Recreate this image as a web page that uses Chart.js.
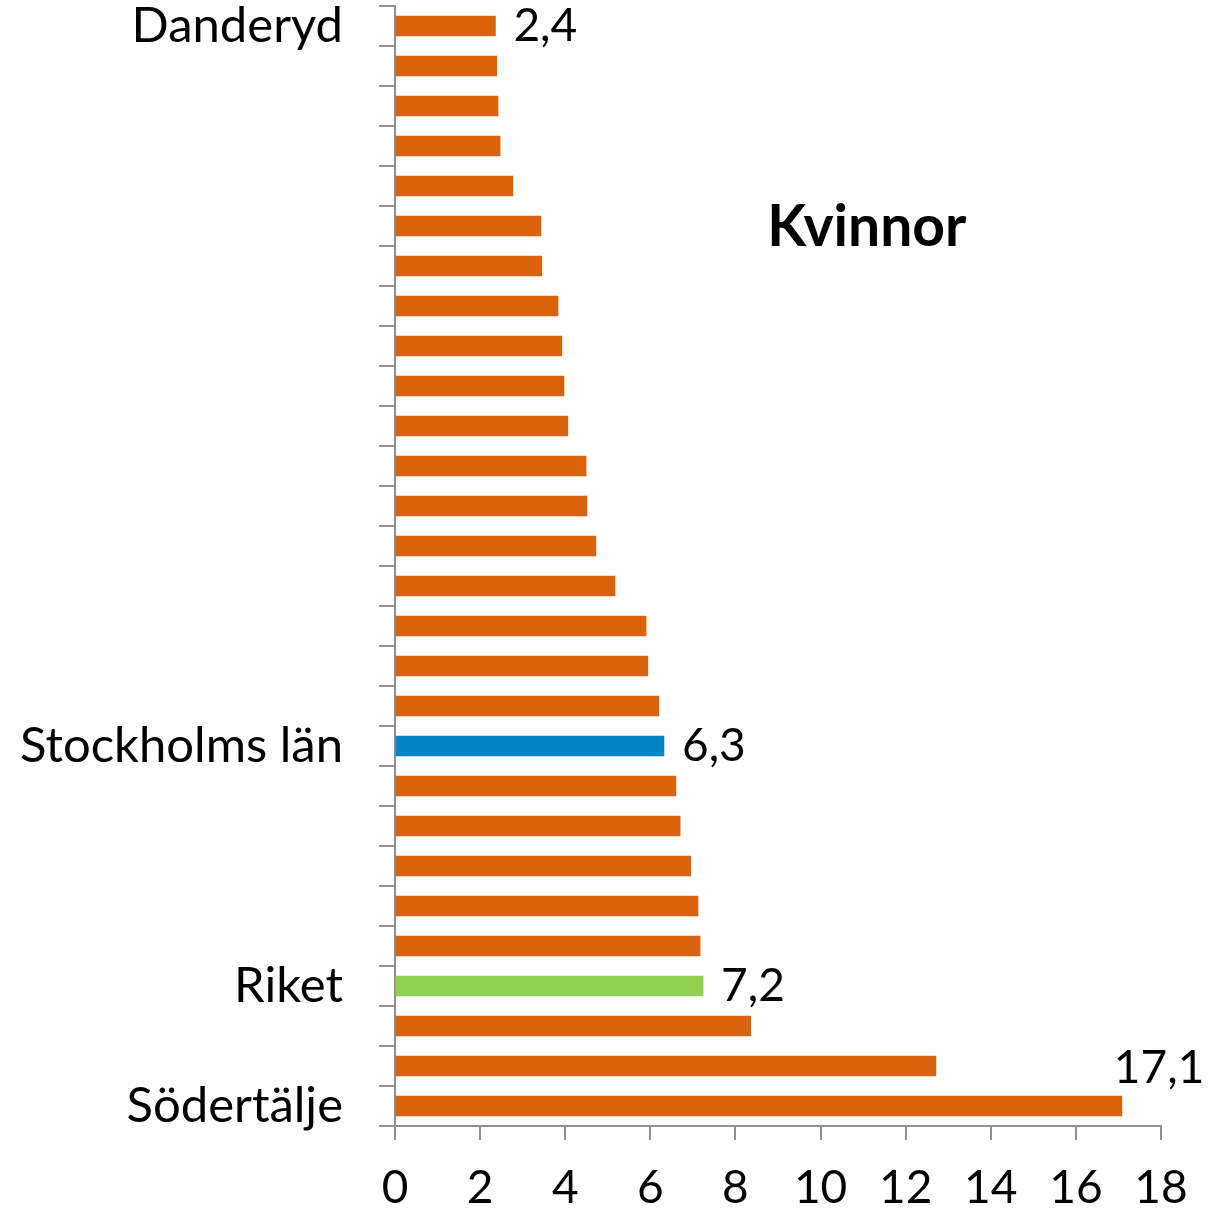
<!DOCTYPE html>
<html>
<head>
<meta charset="utf-8">
<script src="https://cdn.jsdelivr.net/npm/chart.js@4.4.1/dist/chart.umd.min.js"></script>
<style>
  html, body { margin: 0; padding: 0; background: #ffffff; }
  #wrap { width: 1229px; height: 1210px; position: relative; }
</style>
</head>
<body>
<div id="wrap"><canvas id="c" width="1229" height="1210"></canvas></div>
<script>
const categories = ['Danderyd', '', '', '', '', '', '', '', '', '', '', '', '', '', '', '', '', '',
  'Stockholms län', '', '', '', '', '', 'Riket', '', '', 'Södertälje'];
const values = [2.36, 2.39, 2.42, 2.47, 2.77, 3.43, 3.45, 3.83, 3.92, 3.97, 4.06, 4.49, 4.51, 4.72,
  5.17, 5.90, 5.94, 6.20, 6.32, 6.60, 6.70, 6.95, 7.12, 7.17, 7.24, 8.36, 12.71, 17.08];
const labeledCategories = ['Danderyd', 'Stockholms län', 'Riket', 'Södertälje'];
const xTicks = [0, 2, 4, 6, 8, 10, 12, 14, 16, 18];
const panelTitle = 'Kvinnor';

const ORANGE = '#D9620D', BLUE = '#0084C6', GREEN = '#92D050';
const barColors = categories.map(c => c === 'Stockholms län' ? BLUE : (c === 'Riket' ? GREEN : ORANGE));
const FONT = 'Lato, "Open Sans", sans-serif';
const AXIS = '#8f8f8f';

const labelPlugin = {
  id: 'valueLabels',
  afterDatasetsDraw(chart) {
    const ctx = chart.ctx;
    const meta = chart.getDatasetMeta(0);
    ctx.save();
    ctx.font = '46px ' + FONT;
    ctx.fillStyle = '#000';
    ctx.textBaseline = 'middle';
    ctx.textAlign = 'left';
    categories.forEach((c, i) => {
      if (!labeledCategories.includes(c)) return;
      const bar = meta.data[i];
      const txt = values[i].toFixed(1).replace('.', ',');
      if (i === categories.length - 1) {
        ctx.fillText(txt, bar.x - 8, bar.y - 38);
      } else {
        ctx.fillText(txt, bar.x + 18, bar.y);
      }
    });
    // panel title
    const a = chart.chartArea;
    ctx.font = 'bold 57px ' + FONT;
    ctx.textAlign = 'center';
    ctx.fillText(panelTitle, a.left + (a.right - a.left) * 0.616, a.top + (a.bottom - a.top) * 0.198);
    ctx.restore();
  }
};

new Chart(document.getElementById('c'), {
  type: 'bar',
  data: {
    labels: categories,
    datasets: [{
      data: values,
      backgroundColor: barColors,
      borderWidth: 0,
      barThickness: 20
    }]
  },
  options: {
    indexAxis: 'y',
    responsive: false,
    animation: false,
    devicePixelRatio: 1,
    layout: { padding: { top: 6, right: 68, left: 0, bottom: 0 } },
    plugins: { legend: { display: false }, tooltip: { enabled: false }, title: { display: false } },
    scales: {
      x: {
        type: 'linear',
        min: 0, max: 18,
        afterBuildTicks(scale) { scale.ticks = xTicks.map(v => ({ value: v })); },
        afterFit(scale) { scale.height = 84; scale.paddingLeft = 0; scale.paddingRight = 0; },
        grid: { drawOnChartArea: false, drawTicks: true, tickLength: 14, color: AXIS, lineWidth: 2 },
        border: { display: true, color: AXIS, width: 2 },
        ticks: { color: '#000', font: { family: FONT, size: 46, lineHeight: 1.2 }, padding: 21, maxRotation: 0 }
      },
      y: {
        type: 'category',
        afterFit(scale) { scale.width = 395; scale.paddingTop = 0; scale.paddingBottom = 0; },
        grid: { drawOnChartArea: false, drawTicks: true, tickLength: 16, color: AXIS, lineWidth: 2, offset: true },
        border: { display: true, color: AXIS, width: 2 },
        ticks: { color: '#000', font: { family: FONT, size: 49 }, padding: 36, autoSkip: false }
      }
    }
  },
  plugins: [labelPlugin]
});
</script>
</body>
</html>
